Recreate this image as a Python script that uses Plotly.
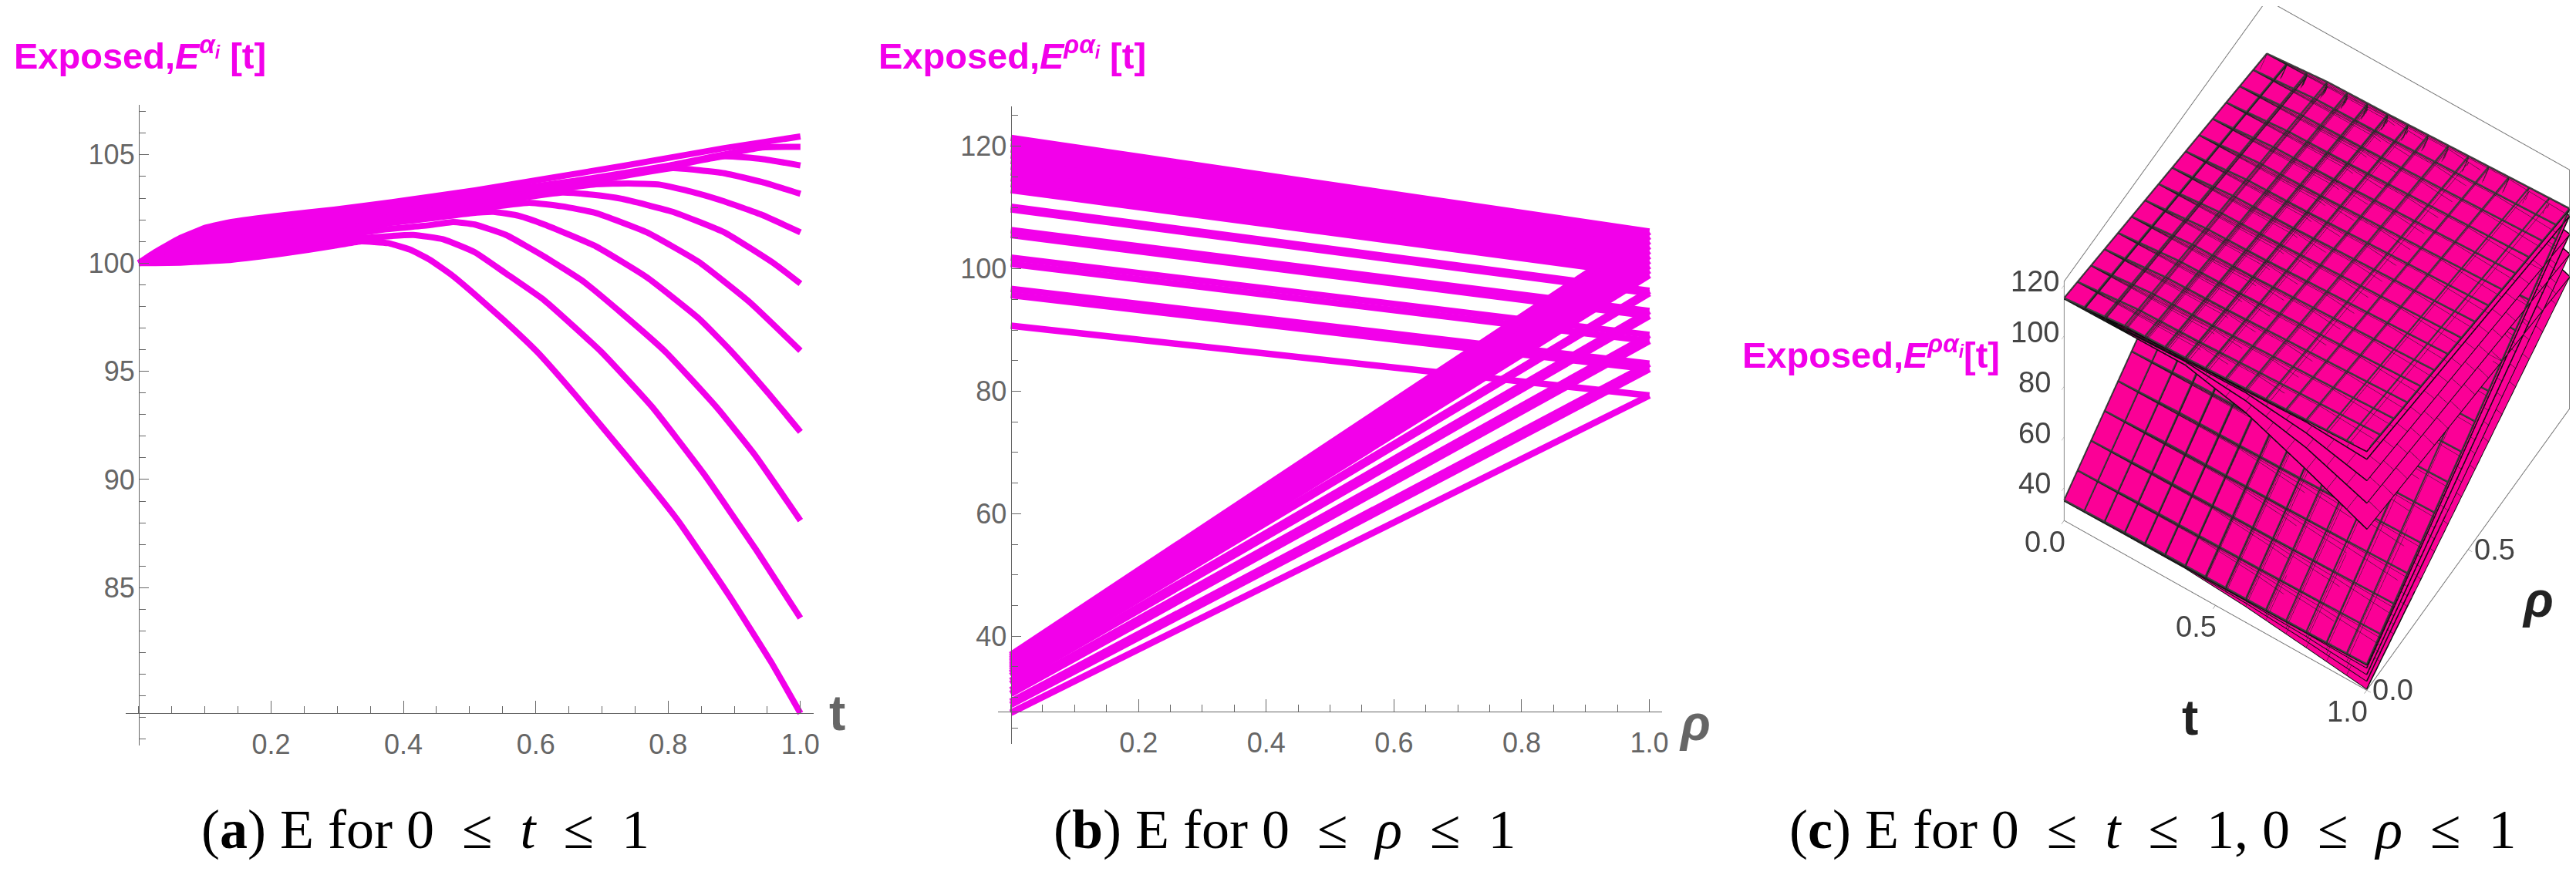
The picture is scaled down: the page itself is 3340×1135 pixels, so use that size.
import numpy as np
import plotly.graph_objects as go

W, H = 3340, 1135
MAGENTA = "#f200ea"
PINK = "#fb0096"
GRAY = "#666666"
SANS = "Liberation Sans"
SERIF = "Liberation Serif"

# ---------- panel (a): bundle knots shared by all curves, then each curve's own knots ----------
t_bundle = [0, .025, .063, .102, .14, .218, .295]
b1 = [100, 100.0, 100.02, 100.08, 100.15, 100.44, 100.8]
b2 = [100, 100.05, 100.13, 100.24, 100.33, 100.62, 101.0]
b3 = [100, 100.1, 100.25, 100.4, 100.5, 100.8, 101.2]
b4 = [100, 100.15, 100.36, 100.55, 100.68, 100.98, 101.36]
b5 = [100, 100.2, 100.48, 100.7, 100.86, 101.15, 101.5]
b6 = [100, 100.25, 100.6, 100.85, 101.0, 101.33, 101.67]
b7 = [100, 100.3, 100.7, 101.0, 101.2, 101.5, 101.8]
b8 = [100, 100.35, 100.82, 101.17, 101.38, 101.68, 101.97]
b9 = [100, 100.4, 100.93, 101.32, 101.55, 101.86, 102.13]
b10 = [100, 100.45, 101.05, 101.48, 101.73, 102.03, 102.3]
b11 = [100, 100.51, 101.16, 101.64, 101.9, 102.21, 102.47]

t1 = [.335, .377, .41, .44, .475, .508, .551, .602, .66, .738, .815, .893, .955, 1]
e1 = [101.0, 100.92, 100.62, 100.15, 99.4, 98.55, 97.38, 95.9, 93.9, 91.05, 88.1, 84.6, 81.6, 79.2]
t2 = [.36, .415, .46, .508, .555, .613, .699, .776, .854, .932, 1]
e2 = [101.2, 101.3, 101.1, 100.5, 99.52, 98.28, 95.9, 93.35, 90.26, 86.8, 83.6]
t3 = [.37, .44, .475, .508, .555, .613, .671, .73, .796, .873, .932, 1]
e3 = [101.55, 101.75, 101.9, 101.78, 101.3, 100.3, 99.17, 97.68, 95.9, 93.35, 91.1, 88.1]
t4 = [.38, .45, .5, .536, .575, .613, .691, .768, .846, .893, .951, 1]
e4 = [101.85, 102.1, 102.3, 102.37, 102.18, 101.78, 100.77, 99.34, 97.45, 96.0, 94.0, 92.2]
t5 = [.39, .49, .59, .64, .691, .768, .846, .923, 1]
e5 = [102.05, 102.42, 102.79, 102.62, 102.31, 101.42, 100.06, 98.2, 95.95]
t6 = [.4, .52, .64, .685, .73, .807, .885, .962, 1]
e6 = [102.25, 102.75, 103.26, 103.16, 102.97, 102.37, 101.42, 99.94, 99.05]
t7 = [.42, .55, .691, .74, .788, .835, .885, .94, 1]
e7 = [102.5, 103.05, 103.64, 103.68, 103.62, 103.3, 102.85, 102.25, 101.42]
t8 = [.44, .6, .72, .807, .885, .942, 1]
e8 = [102.7, 103.4, 103.95, 104.39, 104.15, 103.74, 103.2]
t9 = [.47, .63, .76, .885, .942, 1]
e9 = [102.9, 103.6, 104.2, 104.93, 104.81, 104.51]
t10 = [.49, .66, .8, .942, 1]
e10 = [103.1, 103.8, 104.5, 105.34, 105.37]
t11 = [.372, .508, .73, .885, 1]
e11 = [102.77, 103.36, 104.48, 105.31, 105.85]

curves_a = [(b1, t1, e1), (b2, t2, e2), (b3, t3, e3), (b4, t4, e4), (b5, t5, e5), (b6, t6, e6),
            (b7, t7, e7), (b8, t8, e8), (b9, t9, e9), (b10, t10, e10), (b11, t11, e11)]
xticks_a = [.2, .4, .6, .8, 1.0]
yticks_a = [85, 90, 95, 100, 105]

# ---------- panel (b) ----------
rho_b = [0, 1]
falling_start = [90.7, 95.7, 96.7, 100.8, 101.8, 105.5, 106.3, 109.7, 110.1,
                 112.85, 113.8, 114.75, 115.7, 116.65, 117.6, 118.5, 119.45, 120.4, 121.35]
line_end = [79.3, 83.6, 84.5, 88.2, 89.2, 92.3, 93.1, 96.0, 96.4,
            98.95, 99.75, 100.5, 101.3, 102.1, 102.9, 103.7, 104.5, 105.3, 106.05]
rising_start = [27.5, 28.8, 29.3, 30.6, 31.2, 32.2, 32.7, 33.5, 33.9,
                34.0, 34.35, 34.7, 35.05, 35.35, 35.7, 36.0, 36.3, 36.65, 36.95]
yticks_b = [40, 60, 80, 100, 120]

# ---------- panel (c): knots in t, one row of z per sheet ----------
t_c = [0, .2, .4, .6, .8, 1]
rho_c = [0, 1]
sheet_rho1 = [
    [100, 100.44, 100.75, 95.9, 88.0, 79.2],
    [100, 100.8, 101.8, 100.0, 95.5, 88.1],
    [100, 101.15, 102.2, 102.8, 100.6, 95.95],
    [100, 101.68, 102.7, 103.4, 104.4, 103.2],
    [100, 102.21, 102.9, 103.9, 104.9, 105.85],
]
upper_rho0 = [
    [114.6, 115.0, 115.3, 109.9, 100.8, 90.7],
    [114.6, 115.5, 116.7, 114.6, 109.4, 101.0],
    [114.6, 115.9, 117.1, 117.8, 115.3, 109.9],
    [114.6, 116.5, 117.7, 118.5, 119.6, 118.3],
    [114.6, 117.1, 117.9, 119.1, 120.2, 121.35],
]
lower_rho0 = [
    [34.7, 34.9, 35.0, 33.3, 30.5, 27.5],
    [34.7, 35.0, 35.3, 34.7, 33.1, 30.6],
    [34.7, 35.1, 35.4, 35.6, 34.9, 33.2],
    [34.7, 35.3, 35.6, 35.9, 36.2, 35.8],
    [34.7, 35.4, 35.7, 36.0, 36.4, 36.95],
]
ticks_c = [0.0, 0.5, 1.0]
zticks_c = [40, 60, 80, 100, 120]
Z_MIN, Z_MAX = 27, 121.5
MESH_CELLS = 15

fig = go.Figure()
for b, t, e in curves_a:
    fig.add_trace(go.Scatter(x=t_bundle + t, y=b + e, mode="lines", xaxis="x", yaxis="y",
                             line=dict(color=MAGENTA, width=8, shape="spline", smoothing=0.4),
                             hoverinfo="skip", showlegend=False))
for s, e in zip(falling_start, line_end):
    fig.add_trace(go.Scatter(x=rho_b, y=[s, e], mode="lines", xaxis="x2", yaxis="y2",
                             line=dict(color=MAGENTA, width=8.5), hoverinfo="skip", showlegend=False))
for s, e in zip(rising_start, line_end):
    fig.add_trace(go.Scatter(x=rho_b, y=[s, e], mode="lines", xaxis="x2", yaxis="y2",
                             line=dict(color=MAGENTA, width=8.5), hoverinfo="skip", showlegend=False))

thin = dict(show=True, start=0, end=1, size=1 / MESH_CELLS, color="#202020", width=2, highlight=False)


def thick_mesh(r0, r1):
    """Wireframe of one sheet, following its z knots, lifted a hair above the surface."""
    xs, ys, zs = [], [], []
    r0, r1 = np.array(r0), np.array(r1)
    for m in np.linspace(0, 1, MESH_CELLS + 1):
        # lines of constant t
        a, b_ = np.interp(m, t_c, r0), np.interp(m, t_c, r1)
        xs += [m, m, None]
        ys += [0, 1, None]
        zs += [a + .4, b_ + .4, None]
        # lines of constant rho
        row = r0 + (r1 - r0) * m
        xs += list(t_c) + [None]
        ys += [m] * len(t_c) + [None]
        zs += list(row + .4) + [None]
    return go.Scatter3d(x=xs, y=ys, z=zs, mode="lines", line=dict(color="#404040", width=4),
                        connectgaps=False, hoverinfo="skip", showlegend=False, scene="scene")


for r0_set in (lower_rho0, upper_rho0):
    for i, (r0, r1) in enumerate(zip(r0_set, sheet_rho1)):
        fig.add_trace(go.Surface(x=t_c, y=rho_c, z=[r0, r1], showscale=False,
                                 colorscale=[[0, PINK], [1, PINK]],
                                 lighting=dict(ambient=1, diffuse=0, specular=0, roughness=1, fresnel=0),
                                 contours=dict(x=thin, y=thin, z=dict(show=False, highlight=False)),
                                 hoverinfo="skip", scene="scene"))
        fig.add_trace(go.Scatter3d(x=t_c + [1], y=[0]*6 + [1], z=r0 + [r1[-1]], mode="lines",
                                   line=dict(color="black", width=3), hoverinfo="skip",
                                   showlegend=False, scene="scene"))
        fig.add_trace(go.Scatter3d(x=t_c, y=[1]*6, z=r1, mode="lines",
                                   line=dict(color="black", width=5), hoverinfo="skip",
                                   showlegend=False, scene="scene"))
    fig.add_trace(thick_mesh(r0_set[-1], sheet_rho1[-1]))


def px_x(p):
    return p / W


def px_y(p):
    return 1 - p / H


def axes(xr_px, yr_px, axis_y_px, axis_x_px, xrange_, yrange_, xticks, yticks, ydminor):
    ax_x = dict(domain=[px_x(xr_px[0]), px_x(xr_px[1])], range=xrange_, anchor="free",
                position=px_y(axis_y_px), showgrid=False, zeroline=False, showline=True,
                linecolor=GRAY, linewidth=1, ticks="inside", ticklen=16, tickcolor=GRAY, tickwidth=1,
                tickvals=xticks, ticktext=[f"{v:.1f}" for v in xticks],
                tickfont=dict(family=SANS, size=36, color=GRAY), ticklabelstandoff=8,
                minor=dict(dtick=.05, tick0=0, ticks="inside", ticklen=9, tickcolor=GRAY, tickwidth=1))
    ax_y = dict(domain=[px_y(yr_px[1]), px_y(yr_px[0])], range=yrange_, anchor="free",
                position=px_x(axis_x_px), showgrid=False, zeroline=False, showline=True,
                linecolor=GRAY, linewidth=1, ticks="inside", ticklen=12, tickcolor=GRAY, tickwidth=1,
                tickvals=yticks, ticktext=[str(v) for v in yticks],
                tickfont=dict(family=SANS, size=36, color=GRAY), ticklabelstandoff=-2,
                minor=dict(dtick=ydminor, tick0=0, ticks="inside", ticklen=8, tickcolor=GRAY, tickwidth=1))
    return ax_x, ax_y


xa, ya = axes((155.1, 1049.5), (128, 959.3), 917.3, 172.3, [-.02, 1.02], [77.7, 107.31], xticks_a, yticks_a, 1)
xb, yb = axes((1289.1, 2152.3), (130, 956.7), 915.3, 1305.7, [-.02, 1.02], [22.45, 126.5], xticks_a, yticks_b, 5)


def note(text, x, y, size, color, family, xanchor="center"):
    return dict(text=text, x=px_x(x), y=px_y(y), xref="paper", yref="paper", showarrow=False,
                xanchor=xanchor, yanchor="middle", font=dict(family=family, size=size, color=color))


title_a = "<b>Exposed,<i>E</i><sup><i>α<sub>i</sub></i></sup> [t]</b>"
title_b = "<b>Exposed,<i>E</i><sup><i>ρα<sub>i</sub></i></sup> [t]</b>"
title_c = "<b>Exposed,<i>E</i><sup><i>ρα<sub>i</sub></i></sup>[t]</b>"
SP = "\u00a0"
annotations = [
    note(title_a, 8, 61, 47, MAGENTA, SANS, "left"),
    note(title_b, 1132, 61, 47, MAGENTA, SANS, "left"),
    note(title_c, 2254, 449, 47, MAGENTA, SANS, "left"),
    note("<b>t</b>", 1080, 917, 64, GRAY, SANS),
    note("<b><i>ρ</i></b>", 2195, 930, 64, GRAY, SANS),
    note("<b>t</b>", 2838, 923, 64, "#222222", SANS),
    note("<b><i>ρ</i></b>", 3290, 770, 64, "#222222", SANS),
    note(f"(<b>a</b>) E for 0 {SP}≤{SP} <i>t</i> {SP}≤{SP} 1", 545, 1068, 72, "black", SERIF),
    note(f"(<b>b</b>) E for 0 {SP}≤{SP} <i>ρ</i> {SP}≤{SP} 1", 1662, 1068, 72, "black", SERIF),
    note(f"(<b>c</b>) E for 0 {SP}≤{SP} <i>t</i> {SP}≤{SP} 1, 0 {SP}≤{SP} <i>ρ</i> {SP}≤{SP} 1", 2790, 1068, 72, "black", SERIF),
]

label3d = dict(family=SANS, size=38, color="#444444")
scene_notes = []
for v in ticks_c:
    scene_notes.append(dict(x=v, y=0, z=Z_MIN, text=f"{v:.1f}", showarrow=False, xshift=-25, yshift=-28, font=label3d))
    scene_notes.append(dict(x=1, y=v, z=Z_MIN, text=f"{v:.1f}", showarrow=False, xshift=34, yshift=0, font=label3d))
for v in zticks_c:
    scene_notes.append(dict(x=0, y=0, z=v, text=str(v), showarrow=False, xshift=-38, yshift=5, font=label3d))

box = dict(showbackground=False, showgrid=False, zeroline=False, showline=True, mirror=True,
           linecolor="#777777", linewidth=2, ticks="outside", tickcolor="#777777", ticklen=6,
           showspikes=False, title=dict(text=""), showticklabels=False)

fig.update_layout(
    width=W, height=H, margin=dict(l=0, r=0, t=0, b=0), paper_bgcolor="white", plot_bgcolor="white",
    showlegend=False, annotations=annotations,
    xaxis=xa, yaxis=ya, xaxis2=xb, yaxis2=yb,
    scene=dict(
        domain=dict(x=[2560 / W, 1], y=[1 - 1000 / H, 1]),
        xaxis=dict(box, range=[0, 1], tickvals=ticks_c),
        yaxis=dict(box, range=[0, 1], tickvals=ticks_c),
        zaxis=dict(box, range=[Z_MIN, Z_MAX], tickvals=zticks_c),
        annotations=scene_notes,
        aspectmode="manual", aspectratio=dict(x=.93, y=.98, z=1.32),
        camera=dict(eye=dict(x=.523, y=-1.02, z=1.888), center=dict(x=-.032, y=-.147, z=-.056),
                    up=dict(x=0, y=0, z=1), projection=dict(type="orthographic")),
    ),
)
fig.write_html("out.html")
